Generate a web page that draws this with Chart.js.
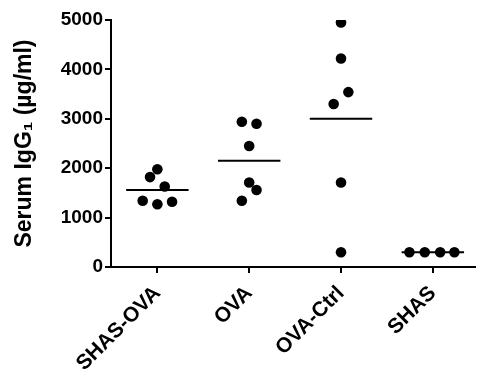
<!DOCTYPE html>
<html>
<head>
<meta charset="utf-8">
<script src="https://cdn.jsdelivr.net/npm/chart.js@4"></script>
<style>
html,body{margin:0;padding:0;background:#fff;}
#c{display:block;}
</style>
</head>
<body>
<canvas id="c" width="480" height="387"></canvas>
<script>
// ---- data ----
const categories = ["SHAS-OVA", "OVA", "OVA-Ctrl", "SHAS"];
const shasOvaValues = [1980, 1820, 1630, 1340, 1270, 1320];
const ovaValues     = [2940, 2900, 2450, 1710, 1560, 1340];
const ovaCtrlValues = [4950, 4220, 3540, 3300, 1710, 300];
const shasValues    = [300, 300, 300, 300];
// horizontal scatter (jitter) of each dot, in category units
const shasOvaJitter = [0, -0.08, 0.08, -0.16, 0, 0.16];
const ovaJitter     = [-0.08, 0.08, 0, 0, 0.08, -0.08];
const ovaCtrlJitter = [0, 0, 0.08, -0.08, 0, 0];
const shasJitter    = [-0.255, -0.088, 0.08, 0.235];
const yTicks = [0, 1000, 2000, 3000, 4000, 5000];
const yAxisTitle = "Serum IgG\u2081 (\u00b5g/ml)";

const groups = [
  {values: shasOvaValues, jitter: shasOvaJitter},
  {values: ovaValues, jitter: ovaJitter},
  {values: ovaCtrlValues, jitter: ovaCtrlJitter},
  {values: shasValues, jitter: shasJitter}
];

const datasets = [];
groups.forEach((g, i) => {
  const mean = g.values.reduce((a, b) => a + b, 0) / g.values.length;
  datasets.push({
    type: 'line',
    data: [{x: i - 0.34, y: mean}, {x: i + 0.34, y: mean}],
    borderColor: '#000',
    borderWidth: 2,
    pointRadius: 0,
    fill: false,
    order: 2
  });
  datasets.push({
    type: 'scatter',
    data: g.values.map((v, k) => ({x: i + g.jitter[k], y: v})),
    backgroundColor: '#000',
    borderColor: '#000',
    pointRadius: 5.3,
    pointHoverRadius: 5.3,
    borderWidth: 0,
    order: 1
  });
});

const FONT = "'Liberation Sans', Arial, sans-serif";

new Chart(document.getElementById('c'), {
  type: 'scatter',
  data: {datasets},
  options: {
    responsive: false,
    animation: false,
    devicePixelRatio: 1,
    layout: {padding: {top: 20, right: 0, bottom: 0, left: 0}},
    plugins: {legend: {display: false}, tooltip: {enabled: false}},
    scales: {
      x: {
        type: 'linear',
        min: -0.505,
        max: 3.456,
        afterBuildTicks: (s) => { s.ticks = categories.map((c, i) => ({value: i})); },
        afterFit: (s) => { s.height = 120; },
        ticks: {
          autoSkip: false,
          minRotation: 45,
          maxRotation: 45,
          padding: 8,
          color: '#000',
          font: {family: FONT, size: 21, weight: 'bold'},
          callback: (v) => categories[Math.round(v)]
        },
        grid: {drawOnChartArea: false, drawTicks: true, tickLength: 6, color: '#000', lineWidth: 2},
        border: {display: true, color: '#000', width: 2}
      },
      y: {
        min: 0,
        max: 5000,
        afterBuildTicks: (s) => { s.ticks = yTicks.map(v => ({value: v})); },
        afterFit: (s) => { s.width = 111; },
        ticks: {
          padding: 2,
          color: '#000',
          font: {family: FONT, size: 19, weight: 'bold'},
          callback: (v) => String(v)
        },
        grid: {drawOnChartArea: false, drawTicks: true, tickLength: 6, color: '#000', lineWidth: 2},
        border: {display: true, color: '#000', width: 2},
        title: {
          display: true,
          text: yAxisTitle,
          color: '#000',
          padding: {top: 11, bottom: 0},
          font: {family: FONT, size: 23, weight: 'bold'}
        }
      }
    }
  }
});
</script>
</body>
</html>
